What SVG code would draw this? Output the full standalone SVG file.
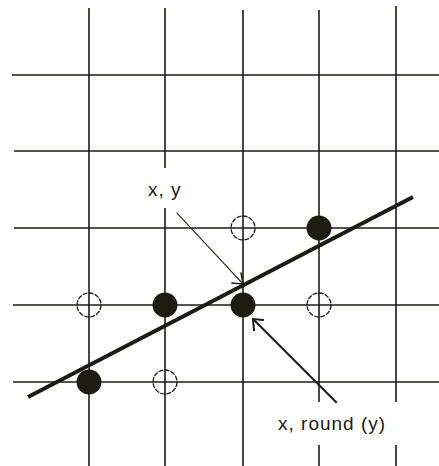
<svg xmlns="http://www.w3.org/2000/svg" width="439" height="466" viewBox="0 0 439 466">
<style>
.grid{stroke:#1c1c12;stroke-width:1.6;fill:none}
.ln{stroke:#1c1c12;stroke-width:4;fill:none}
.open{fill:none;stroke:#1c1c12;stroke-width:1.3;stroke-dasharray:5 1.2}
.fill{fill:#1c1c12}
.lab{font-family:"Liberation Sans",Arial,sans-serif;font-size:19px;letter-spacing:1px;fill:#1c1c12}
.arr{fill:none;stroke:#1c1c12;stroke-linecap:square}
</style>
<rect width="439" height="466" fill="#fff"/>
<g id="grid">
<line class="grid" x1="12" y1="75" x2="439" y2="75"/>
<line class="grid" x1="14" y1="151" x2="439" y2="151"/>
<line class="grid" x1="14" y1="228" x2="439" y2="228"/>
<line class="grid" x1="13" y1="305" x2="439" y2="305"/>
<line class="grid" x1="13" y1="382" x2="439" y2="382"/>
<line class="grid" x1="89" y1="8" x2="89" y2="466"/>
<line class="grid" x1="165" y1="8" x2="165" y2="168"/>
<line class="grid" x1="165" y1="208" x2="165" y2="466"/>
<line class="grid" x1="243" y1="10" x2="243" y2="466"/>
<line class="grid" x1="319" y1="10" x2="319" y2="402"/>
<line class="grid" x1="319" y1="445" x2="319" y2="466"/>
<line class="grid" x1="396" y1="6" x2="396" y2="402"/>
<line class="grid" x1="396" y1="445" x2="396" y2="466"/>
</g>
<g id="open-points">
<circle class="open" cx="89" cy="305" r="12"/>
<circle class="open" cx="243" cy="228" r="12"/>
<circle class="open" cx="319" cy="305" r="12"/>
<circle class="open" cx="165" cy="382" r="12"/>
</g>
<g id="filled-points">
<circle class="fill" cx="89" cy="382" r="12.5"/>
<circle class="fill" cx="165" cy="305" r="12.5"/>
<circle class="fill" cx="243" cy="305" r="12.5"/>
<circle class="fill" cx="319" cy="228" r="12.5"/>
</g>
<g id="line">
<line class="ln" x1="28" y1="397" x2="413" y2="197"/>
</g>
<g id="connectors">
<line class="arr" stroke-width="1.1" x1="177" y1="213" x2="243" y2="284"/>
<polyline class="arr" stroke-width="1.4" points="241,273 243,284 232,283"/>
<line class="arr" stroke-width="2" x1="336" y1="402" x2="253" y2="319"/>
<polyline class="arr" stroke-width="2" points="263,320 253,319 254,330"/>
</g>
<g id="label-xy">
<text class="lab" x="148" y="196">x, y</text>
</g>
<g id="label-round">
<text class="lab" x="278" y="430">x, round (y)</text>
</g>
</svg>
